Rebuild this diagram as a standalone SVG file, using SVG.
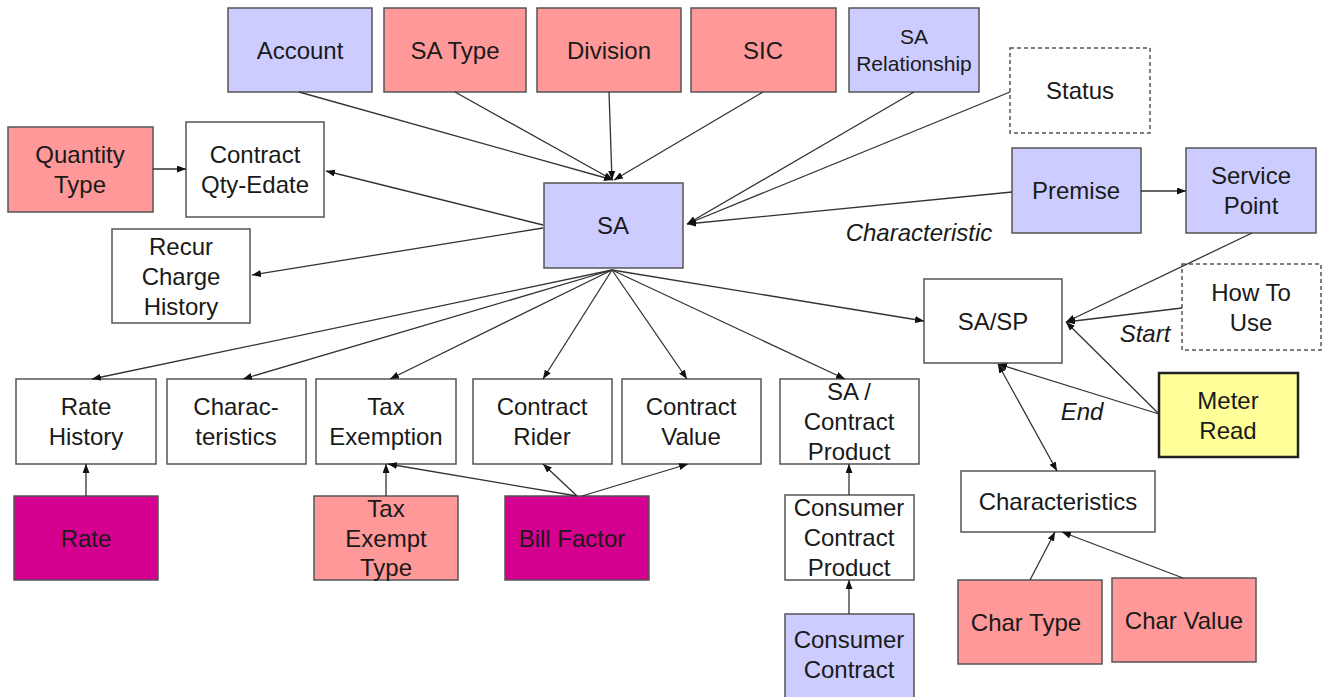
<svg xmlns="http://www.w3.org/2000/svg" width="1323" height="697" viewBox="0 0 1323 697">
<style>
  .box{stroke:#555;stroke-width:1.5}
  .w{fill:#fff}
  .lav{fill:#ccccff}
  .sal{fill:#ff9999}
  .mag{fill:#d5008f}
  .yel{fill:#ffff99;stroke:#222;stroke-width:2.5}
  .dash{fill:#fff;stroke:#555;stroke-width:1.5;stroke-dasharray:4 3}
  text{font-family:"Liberation Sans",Arial,sans-serif;font-size:24px;fill:#1a1a1a;text-anchor:middle}
  .sm{font-size:21px}
  .it{font-style:italic}
  .c line{stroke:#333;stroke-width:1.3;marker-end:url(#ah)}
</style>
<defs>
  <marker id="ah" markerUnits="userSpaceOnUse" markerWidth="9" markerHeight="7" refX="9" refY="3.5" orient="auto-start-reverse">
    <path d="M0,0 L9,3.5 L0,7 z" fill="#111"/>
  </marker>
</defs>
<rect width="1323" height="697" fill="#fff"/>

<g id="account"><rect class="box lav" x="228" y="8" width="144" height="84"/><text x="300" y="59">Account</text></g>
<g id="satype"><rect class="box sal" x="384" y="8" width="142" height="84"/><text x="455" y="59">SA Type</text></g>
<g id="division"><rect class="box sal" x="537" y="8" width="144" height="84"/><text x="609" y="59">Division</text></g>
<g id="sic"><rect class="box sal" x="691" y="8" width="145" height="84"/><text x="763" y="59">SIC</text></g>
<g id="sarel"><rect class="box lav" x="849" y="8" width="130" height="84"/><text class="sm" x="914" y="44">SA</text><text class="sm" x="914" y="71">Relationship</text></g>
<g id="status"><rect class="dash" x="1010" y="48" width="140" height="85"/><text x="1080" y="99">Status</text></g>
<g id="qtytype"><rect class="box sal" x="8" y="127" width="145" height="85"/><text x="80" y="163">Quantity</text><text x="80" y="193">Type</text></g>
<g id="cqe"><rect class="box w" x="186" y="122" width="138" height="95"/><text x="255" y="163">Contract</text><text x="255" y="193">Qty-Edate</text></g>
<g id="sa"><rect class="box lav" x="544" y="183" width="139" height="85"/><text x="613" y="234">SA</text></g>
<g id="premise"><rect class="box lav" x="1012" y="148" width="129" height="85"/><text x="1076" y="199">Premise</text></g>
<g id="sp"><rect class="box lav" x="1186" y="148" width="130" height="85"/><text x="1251" y="184">Service</text><text x="1251" y="214">Point</text></g>
<g id="recur"><rect class="box w" x="112" y="229" width="138" height="94"/><text x="181" y="255">Recur</text><text x="181" y="285">Charge</text><text x="181" y="315">History</text></g>
<g id="sasp"><rect class="box w" x="924" y="279" width="138" height="84"/><text x="993" y="330">SA/SP</text></g>
<g id="howto"><rect class="dash" x="1182" y="264" width="139" height="86"/><text x="1251" y="301">How To</text><text x="1251" y="331">Use</text></g>
<g id="ratehist"><rect class="box w" x="16" y="379" width="140" height="85"/><text x="86" y="415">Rate</text><text x="86" y="445">History</text></g>
<g id="charac"><rect class="box w" x="167" y="379" width="139" height="85"/><text x="236" y="415">Charac-</text><text x="236" y="445">teristics</text></g>
<g id="taxex"><rect class="box w" x="316" y="379" width="140" height="85"/><text x="386" y="415">Tax</text><text x="386" y="445">Exemption</text></g>
<g id="rider"><rect class="box w" x="473" y="379" width="139" height="85"/><text x="542" y="415">Contract</text><text x="542" y="445">Rider</text></g>
<g id="cvalue"><rect class="box w" x="622" y="379" width="139" height="85"/><text x="691" y="415">Contract</text><text x="691" y="445">Value</text></g>
<g id="sacp"><rect class="box w" x="780" y="379" width="139" height="85"/><text x="849" y="400">SA /</text><text x="849" y="430">Contract</text><text x="849" y="460">Product</text></g>
<g id="meter"><rect class="yel" x="1159" y="373" width="139" height="84"/><text x="1228" y="409">Meter</text><text x="1228" y="439">Read</text></g>
<g id="charsr"><rect class="box w" x="961" y="471" width="194" height="61"/><text x="1058" y="510">Characteristics</text></g>
<g id="rate"><rect class="box mag" x="14" y="496" width="144" height="84"/><text x="86" y="547">Rate</text></g>
<g id="taxtype"><rect class="box sal" x="314" y="496" width="144" height="84"/><text x="386" y="517">Tax</text><text x="386" y="547">Exempt</text><text x="386" y="576">Type</text></g>
<g id="billfactor"><rect class="box mag" x="505" y="496" width="144" height="84"/><text x="572" y="547">Bill Factor</text></g>
<g id="ccp"><rect class="box w" x="785" y="495" width="129" height="85"/><text x="849" y="516">Consumer</text><text x="849" y="546">Contract</text><text x="849" y="576">Product</text></g>
<g id="chartype"><rect class="box sal" x="958" y="580" width="144" height="84"/><text x="1026" y="631">Char Type</text></g>
<g id="charvalue"><rect class="box sal" x="1112" y="578" width="144" height="84"/><text x="1184" y="629">Char Value</text></g>
<g id="cc"><rect class="box lav" x="785" y="614" width="129" height="84"/><text x="849" y="648">Consumer</text><text x="849" y="678">Contract</text></g>

<g id="labels">
  <text class="it" x="919" y="241">Characteristic</text>
  <text class="it" x="1145" y="342">Start</text>
  <text class="it" x="1082" y="420">End</text>
</g>

<g id="connectors" class="c">
  <line x1="299" y1="92" x2="613" y2="180"/>
  <line x1="455" y1="92" x2="613" y2="180"/>
  <line x1="609" y1="92" x2="612" y2="180"/>
  <line x1="763" y1="92" x2="614" y2="180"/>
  <line x1="914" y1="92" x2="687" y2="224"/>
  <line x1="1010" y1="92" x2="687" y2="224"/>
  <line x1="1012" y1="192" x2="687" y2="224"/>
  <line x1="1141" y1="191" x2="1186" y2="191"/>
  <line x1="543" y1="225" x2="326" y2="171"/>
  <line x1="543" y1="228" x2="252" y2="275"/>
  <line x1="153" y1="169" x2="186" y2="169"/>
  <line x1="612" y1="270" x2="92" y2="379"/>
  <line x1="612" y1="270" x2="243" y2="379"/>
  <line x1="612" y1="270" x2="390" y2="379"/>
  <line x1="612" y1="270" x2="543" y2="379"/>
  <line x1="612" y1="270" x2="687" y2="379"/>
  <line x1="612" y1="270" x2="845" y2="379"/>
  <line x1="612" y1="270" x2="924" y2="321"/>
  <line x1="86" y1="496" x2="86" y2="464"/>
  <line x1="386" y1="496" x2="386" y2="464"/>
  <line x1="577" y1="496" x2="388" y2="464"/>
  <line x1="577" y1="496" x2="543" y2="464"/>
  <line x1="582" y1="496" x2="688" y2="464"/>
  <line x1="849" y1="614" x2="849" y2="580"/>
  <line x1="849" y1="495" x2="849" y2="464"/>
  <line x1="1252" y1="233" x2="1066" y2="322"/>
  <line x1="1182" y1="308" x2="1066" y2="322"/>
  <line x1="1159" y1="414" x2="1066" y2="322"/>
  <line x1="1159" y1="414" x2="998" y2="364"/>
  <line x1="998" y1="364" x2="1057" y2="471" style="marker-start:url(#ah)"/>
  <line x1="1030" y1="580" x2="1055" y2="532"/>
  <line x1="1183" y1="578" x2="1062" y2="532"/>
</g>
</svg>
